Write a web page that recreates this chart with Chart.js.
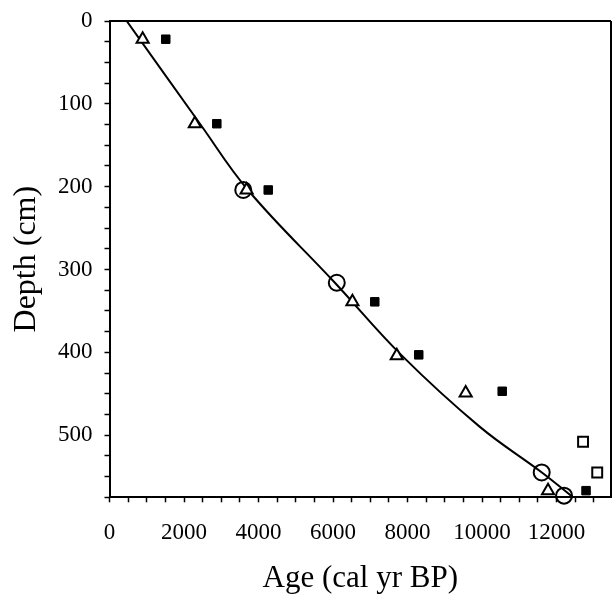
<!DOCTYPE html>
<html>
<head>
<meta charset="utf-8">
<script src="https://cdn.jsdelivr.net/npm/chart.js@4/dist/chart.umd.min.js"></script>
<style>
html,body{margin:0;padding:0;background:#fff;}
#wrap{width:612px;height:594px;position:relative;}
</style>
</head>
<body>
<div id="wrap"><canvas id="c" width="612" height="594"></canvas></div>
<script>
// ---- data ----
const triAges   = [890, 2290, 3680, 6520, 7710, 9560, 11770];
const triDepths = [22, 124, 204, 339, 404, 449, 567];

const sqFillAges   = [1510, 2880, 4260, 7120, 8300, 10540, 12790];
const sqFillDepths = [22, 124, 204, 339, 403, 447, 567];

const circAges   = [3590, 6100, 11600, 12200];
const circDepths = [204, 316, 545, 573];

const sqOpenAges   = [12710, 13090];
const sqOpenDepths = [508, 545];

const curveAges   = [461, 2428, 3716, 6050, 7848, 9941, 11605, 12440];
const curveDepths = [0, 124, 204, 316, 404, 490, 545, 575];

const xTickValues = [0,500,1000,1500,2000,2500,3000,3500,4000,4500,5000,5500,6000,6500,
                     7000,7500,8000,8500,9000,9500,10000,10500,11000,11500,12000,12500,13000];
const xLabelTicks = [0, 2000, 4000, 6000, 8000, 10000, 12000];
const yTickValues = [0,25,50,75,100,125,150,175,200,225,250,275,300,325,350,375,400,
                     425,450,475,500,525,550,575];
const yLabelTicks = [0, 100, 200, 300, 400, 500];

const xTitle = 'Age (cal yr BP)';
const yTitle = 'Depth (cm)';

function pts(xs, ys){ return xs.map((x,i)=>({x:x, y:ys[i]})); }

const frame = {
  id:'frame',
  afterDraw(chart){
    const a = chart.chartArea, ctx = chart.ctx;
    ctx.save();
    ctx.strokeStyle = '#000';
    ctx.lineWidth = 2;
    ctx.beginPath();
    ctx.moveTo(a.left, a.top); ctx.lineTo(a.right, a.top);
    ctx.moveTo(a.right, a.top); ctx.lineTo(a.right, a.bottom);
    ctx.stroke();
    ctx.restore();
  }
};

const FONT = "'Liberation Serif', 'Times New Roman', serif";

function setTicks(values){
  return function(scale){ scale.ticks = values.map(v => ({value:v})); };
}
function labelOnly(list){
  return function(v){ return list.indexOf(v) >= 0 ? String(v) : ''; };
}

new Chart(document.getElementById('c'), {
  type: 'scatter',
  data: {
    datasets: [
      { label:'curve', type:'line', data: pts(curveAges, curveDepths), showLine:true,
        borderColor:'#000', borderWidth:2, pointRadius:0, fill:false,
        tension:0.4, order:5 },
      { label:'triangles', data: pts(triAges, triDepths), pointStyle:'triangle',
        pointRadius:7, pointBorderWidth:2, borderColor:'#000', backgroundColor:'#fff', clip:false },
      { label:'filled squares', data: pts(sqFillAges, sqFillDepths), pointStyle:'rect',
        pointRadius:6, pointBorderWidth:1, borderColor:'#000', backgroundColor:'#000', clip:false },
      { label:'circles', data: pts(circAges, circDepths), pointStyle:'circle',
        pointRadius:8, pointBorderWidth:2, borderColor:'#000', backgroundColor:'rgba(255,255,255,0)', clip:false },
      { label:'open squares', data: pts(sqOpenAges, sqOpenDepths), pointStyle:'rect',
        pointRadius:7, pointBorderWidth:2, borderColor:'#000', backgroundColor:'#fff', clip:false }
    ]
  },
  options: {
    responsive:false,
    animation:false,
    devicePixelRatio:1,
    layout:{ autoPadding:false, padding:{ top:21, right:1, left:0, bottom:0 } },
    plugins:{ legend:{display:false}, tooltip:{enabled:false} },
    scales:{
      x:{
        type:'linear', min:0, max:13460,
        afterBuildTicks: setTicks(xTickValues),
        ticks:{
          autoSkip:false, maxRotation:0, minRotation:0,
          color:'#000', font:{family:FONT, size:23}, padding:17,
          callback: labelOnly(xLabelTicks)
        },
        grid:{ drawOnChartArea:false, drawTicks:true, tickLength:5, tickWidth:1.5, tickColor:'#000' },
        border:{ display:true, color:'#000', width:2 },
        title:{ display:true, text:xTitle, color:'#000', font:{family:FONT, size:31, lineHeight:1.0}, padding:{top:10, bottom:0} },
        afterFit:(s)=>{ s.height = 96.7; s.paddingLeft = 0; s.paddingRight = 0; }
      },
      y:{
        type:'linear', min:0, max:575, reverse:true,
        afterBuildTicks: setTicks(yTickValues),
        ticks:{
          autoSkip:false,
          color:'#000', font:{family:FONT, size:23}, padding:12,
          callback: labelOnly(yLabelTicks)
        },
        grid:{ drawOnChartArea:false, drawTicks:true, tickLength:5, tickWidth:1.5, tickColor:'#000' },
        border:{ display:true, color:'#000', width:2 },
        title:{ display:true, text:yTitle, color:'#000', font:{family:FONT, size:32}, padding:{top:7, bottom:0} },
        afterFit:(s)=>{ s.width = 109.5; s.paddingTop = 0; s.paddingBottom = 0; }
      }
    }
  },
  plugins:[frame]
});
</script>
</body>
</html>
